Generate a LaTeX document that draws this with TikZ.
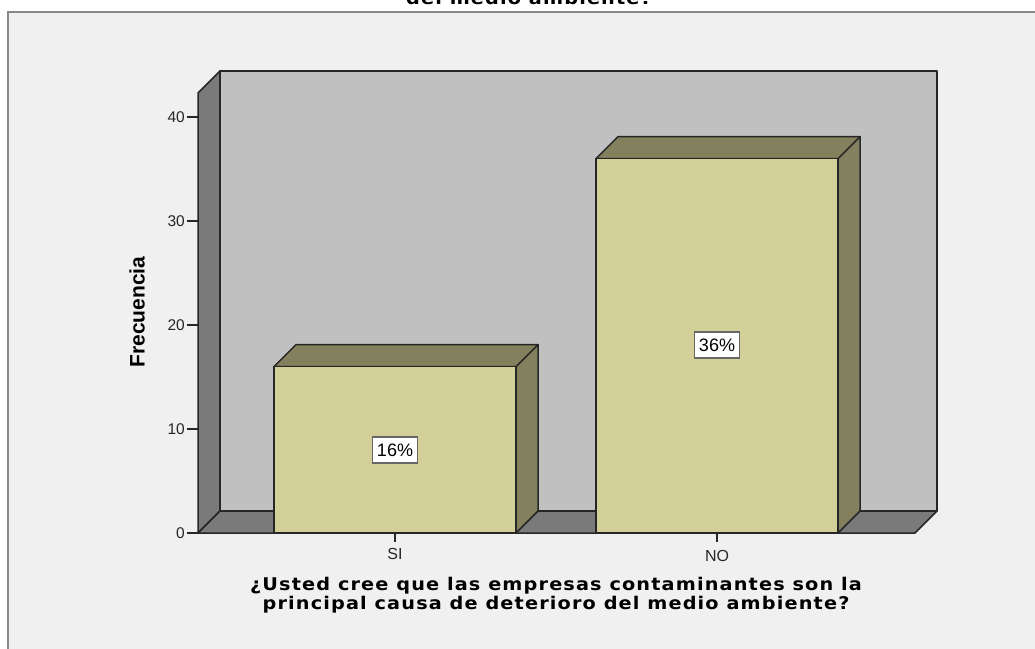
\documentclass[tikz,border=0pt]{standalone}
\usepackage{fontspec}
\setmainfont{Liberation Sans}
\newfontfamily\titlefont[LetterSpace=6]{DejaVu Sans}
\definecolor{bgframe}{RGB}{240,240,240}
\definecolor{framegray}{RGB}{136,136,136}
\definecolor{wallback}{RGB}{192,192,192}
\definecolor{walldark}{RGB}{122,122,122}
\definecolor{barfront}{RGB}{211,207,152}
\definecolor{bardark}{RGB}{130,128,93}
\definecolor{edge}{RGB}{38,38,38}
\newcommand{\widetitle}[1]{\scalebox{1.1}[1]{\begin{tabular}{@{}c@{}}#1\end{tabular}}}
\tikzset{
  wall/.style={draw=edge, line width=1.5pt, line join=round},
  barface/.style={draw=edge, line width=1.5pt, line join=round},
  tickline/.style={draw=edge, line width=1.5pt},
  ticklabel/.style={font=\fontsize{15.5}{15.5}\selectfont, text=edge, inner sep=0pt},
  catlabel/.style={font=\fontsize{16}{16}\selectfont, text=edge, inner sep=0pt},
  pctbox/.style={draw=edge!70, fill=white, line width=1.2pt, font=\fontsize{18}{18}\selectfont, inner sep=3pt, minimum width=45pt, minimum height=26pt},
  axtitle/.style={font=\titlefont\bfseries\fontsize{17.5}{18}\selectfont, text=black, inner sep=0pt}
}
\begin{document}
\begin{tikzpicture}[x=1pt,y=-1pt]
\useasboundingbox (0,0) rectangle (1035,648);
\clip (0,0) rectangle (1035,648);
\fill[white] (0,0) rectangle (1035,648);
% frame
\draw[fill=bgframe, draw=framegray, line width=2pt] (8,12) rectangle (1045,660);
% title (cut off)
\node[axtitle, anchor=base] (title) at (529,4) {\scalebox{1.1}[1]{del medio ambiente?}};
% walls
\filldraw[wall, fill=walldark] (198,533) -- (198,93) -- (220,71) -- (220,511) -- cycle;
\filldraw[wall, fill=wallback] (220,71) rectangle (937,511);
\filldraw[wall, fill=walldark] (198,533) -- (220,511) -- (937,511) -- (915,533) -- cycle;
% bars
\foreach \xa/\xb/\yt in {274/516/366.6, 596/838/158.6}{
  \filldraw[barface, fill=bardark] (\xb,533) -- (\xb,\yt) -- (\xb+22,\yt-22) -- (\xb+22,511) -- cycle;
  \filldraw[barface, fill=bardark] (\xa,\yt) -- (\xa+22,\yt-22) -- (\xb+22,\yt-22) -- (\xb,\yt) -- cycle;
  \filldraw[barface, fill=barfront] (\xa,533) rectangle (\xb,\yt);
}
% y ticks
\foreach \v in {0,10,20,30,40}{
  \draw[tickline] (187,533-10.4*\v) -- (198,533-10.4*\v);
  \node[ticklabel, anchor=east] (yl\v) at (185,533-10.4*\v) {\v};
}
% x ticks
\draw[tickline] (395,533) -- (395,542);
\draw[tickline] (717,533) -- (717,542);
\node[catlabel, anchor=center] (si) at (395,554) {SI};
\node[catlabel, anchor=center] (no) at (717,556) {NO};
% percent labels
\node[pctbox] (p16) at (395,450) {16\%};
\node[pctbox] (p36) at (717,345) {36\%};
% axis titles
\node[font=\bfseries\fontsize{21}{21}\selectfont, rotate=90, inner sep=0pt] (ytitle) at (137,312) {Frecuencia};
\node[axtitle] (xtitle) at (556,596) {\widetitle{¿Usted cree que las empresas contaminantes son la\\principal causa de deterioro del medio ambiente?}};
\end{tikzpicture}
\end{document}
